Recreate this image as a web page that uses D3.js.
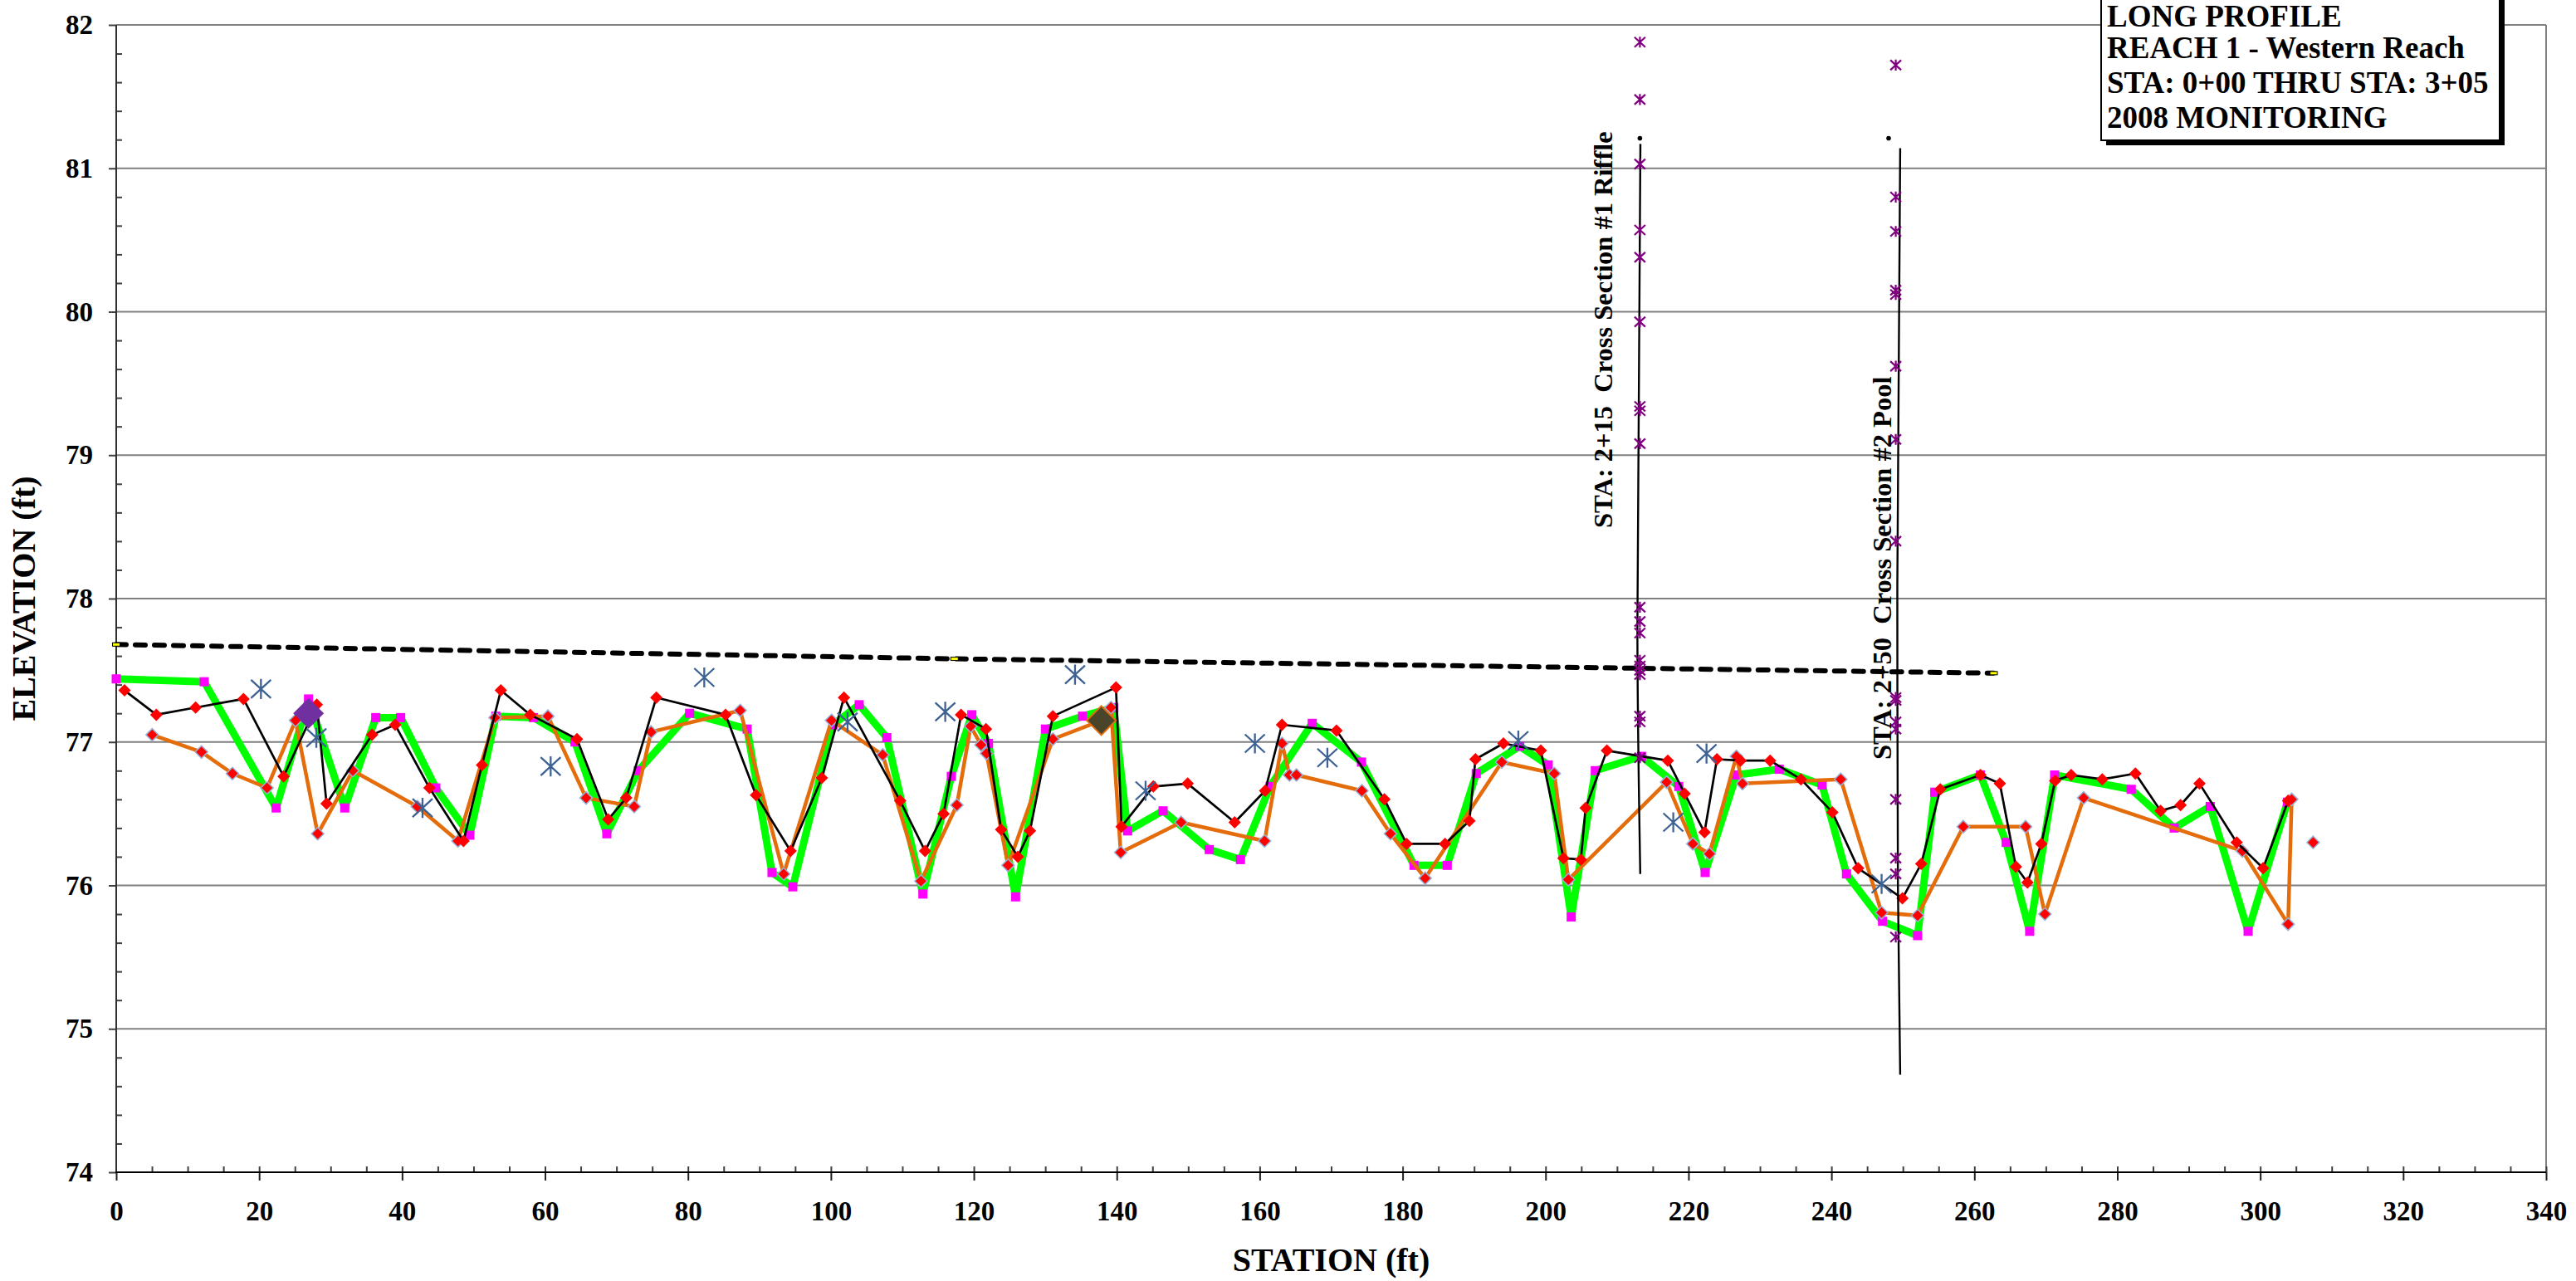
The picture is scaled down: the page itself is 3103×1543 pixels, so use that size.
<!DOCTYPE html>
<html>
<head>
<meta charset="utf-8">
<script src="https://cdn.jsdelivr.net/npm/d3@7"></script>
<style>
  html, body { margin: 0; padding: 0; background: #ffffff; }
  svg { display: block; }
  text { font-family: "Liberation Serif", "Times New Roman", serif; font-weight: bold; fill: #000; }
</style>
</head>
<body>
<svg id="chart" width="3103" height="1543"></svg>
<script>
// ---- Long profile survey data: [station (ft), elevation (ft)] ----

// Thalweg profile, survey A (green line, magenta squares)
const profileA = [
  [0.0, 77.44], [12.31, 77.42], [22.38, 76.54], [26.91, 77.30], [31.98, 76.54],
  [36.32, 77.17], [39.80, 77.17], [44.72, 76.68], [49.48, 76.35], [53.12, 77.18],
  [58.39, 77.17], [64.20, 77.00], [68.65, 76.36], [73.06, 76.80], [80.23, 77.20],
  [88.28, 77.09], [91.76, 76.09], [94.67, 75.99], [100.28, 77.12], [103.96, 77.26],
  [107.83, 77.03], [112.87, 75.94], [116.85, 76.76], [119.72, 77.19], [122.05, 76.99],
  [125.84, 75.92], [130.02, 77.09], [135.21, 77.18], [139.58, 77.24], [141.52, 76.38],
  [146.48, 76.52], [152.94, 76.25], [157.31, 76.18], [161.46, 76.69], [167.35, 77.13],
  [174.24, 76.86], [181.59, 76.14], [186.24, 76.14], [190.30, 76.78], [196.38, 76.97],
  [200.37, 76.84], [203.59, 75.78], [206.96, 76.80], [213.42, 76.90], [218.64, 76.69],
  [222.33, 76.09], [226.70, 76.77], [232.70, 76.81], [238.70, 76.70], [242.11, 76.08],
  [247.15, 75.75], [252.06, 75.65], [254.46, 76.65], [260.85, 76.77], [264.45, 76.30],
  [267.74, 75.68], [271.23, 76.77], [281.95, 76.67], [287.96, 76.40], [293.0, 76.55],
  [298.3, 75.68], [303.8, 76.58]
];

// Thalweg profile, survey B (thin black line, red diamonds)
const profileB = [
  [1.16, 77.36], [5.61, 77.19], [11.11, 77.24], [17.81, 77.30], [23.42, 76.76],
  [28.07, 77.26], [29.43, 76.57], [35.80, 77.05], [39.03, 77.12], [43.83, 76.68],
  [48.59, 76.31], [51.18, 76.84], [53.82, 77.36], [57.93, 77.19], [64.47, 77.02],
  [68.84, 76.46], [71.36, 76.61], [75.58, 77.31], [85.26, 77.19], [89.52, 76.63],
  [94.36, 76.24], [98.73, 76.75], [101.83, 77.31], [109.69, 76.59], [113.18, 76.24],
  [115.77, 76.50], [118.21, 77.19], [121.70, 77.09], [123.82, 76.39], [126.15, 76.20],
  [127.85, 76.38], [131.06, 77.18], [139.89, 77.38], [140.67, 76.41], [145.12, 76.69],
  [149.92, 76.71], [156.50, 76.44], [160.76, 76.66], [163.12, 77.12], [170.75, 77.08],
  [177.45, 76.60], [180.55, 76.29], [185.93, 76.29], [189.34, 76.45], [190.19, 76.88],
  [194.10, 76.99], [199.33, 76.94], [202.50, 76.19], [204.94, 76.18], [205.60, 76.54],
  [208.58, 76.94], [217.10, 76.87], [219.46, 76.64], [222.24, 76.37], [223.98, 76.88],
  [227.28, 76.87], [231.42, 76.87], [235.73, 76.74], [240.13, 76.51], [243.73, 76.12],
  [249.93, 75.91], [252.56, 76.15], [255.23, 76.67], [260.85, 76.77], [263.56, 76.71],
  [265.81, 76.13], [267.43, 76.02], [269.37, 76.29], [271.30, 76.73], [273.55, 76.77],
  [277.89, 76.74], [282.53, 76.78], [286.06, 76.52], [288.85, 76.56], [291.5, 76.71],
  [296.7, 76.30], [300.4, 76.12], [303.9, 76.59]
];

// Thalweg profile, survey C (orange line, outlined red diamonds)
const profileC = [
  [5.03, 77.05], [11.93, 76.93], [16.26, 76.78], [21.10, 76.68], [25.09, 77.15],
  [28.19, 76.36], [33.10, 76.80], [42.13, 76.55], [47.82, 76.31], [53.00, 77.17],
  [60.40, 77.18], [65.75, 76.61], [72.48, 76.55], [74.84, 77.07], [87.31, 77.22],
  [93.39, 76.08], [100.09, 77.15], [107.25, 76.91], [112.60, 76.03], [117.63, 76.56],
  [119.56, 77.11], [121.00, 76.98], [121.77, 76.92], [124.79, 76.14], [131.06, 77.02],
  [137.84, 77.15], [139.19, 77.24], [140.55, 76.23], [149.00, 76.44], [160.68, 76.31],
  [163.12, 76.99], [164.17, 76.77], [165.14, 76.77], [174.30, 76.66], [178.30, 76.36],
  [183.15, 76.05], [193.87, 76.86], [201.22, 76.78], [203.19, 76.04], [216.94, 76.72],
  [220.61, 76.29], [222.93, 76.22], [226.70, 76.90], [227.55, 76.71], [241.30, 76.74],
  [247.02, 75.81], [252.06, 75.79], [258.45, 76.41], [267.17, 76.41], [269.87, 75.80],
  [275.29, 76.61], [297.5, 76.24], [303.9, 75.73], [304.4, 76.60]
];

// Stand-alone spot elevation at end of reach
const endPoint = [[307.4, 76.30]];

// Water surface shots (blue asterisks)
const waterSurface = [
  [20.25, 77.37], [28.0, 77.03], [42.86, 76.54], [60.79, 76.83], [82.28, 77.45],
  [102.33, 77.14], [116.0, 77.21], [134.16, 77.47], [144.03, 76.66], [159.33, 76.99],
  [169.47, 76.89], [196.19, 77.01], [217.87, 76.44], [222.52, 76.92], [247.02, 76.01]
];

// Photo points / features (large diamonds)
const featureA = [[26.91, 77.20]];
const featureB = [[137.84, 77.15]];

// Bankfull line (dashed) with its three surveyed points
const bankfull = [[0.0, 77.68], [117.3, 77.58], [262.7, 77.48]];

// Cross-section stations drawn as vertical lines
const xs1Line = [[213.27, 81.17], [212.85, 77.8], [213.25, 76.08]];
const xs2Line = [[249.62, 81.14], [249.22, 78.0], [249.3, 76.0], [249.62, 74.68]];
const xsDots = [[213.2, 81.21], [248.0, 81.21]];

// Cross-section elevations (purple asterisks)
const xs1Station = 213.2;
const xs1Elev = [81.88, 81.48, 81.03, 80.57, 80.38, 79.93, 79.34, 79.31, 79.08,
                 77.94, 77.84, 77.76, 77.57, 77.53, 77.50, 77.47, 77.18, 77.14, 76.89];
const xs2Station = 249.0;
const xs2Elev = [81.72, 80.80, 80.56, 80.15, 80.12, 79.62, 79.11, 78.40,
                 77.31, 77.29, 77.14, 77.09, 76.60, 76.19, 76.08, 75.64];

// Axis ticks and labels
const xTicks = d3.range(0, 341, 20);
const yTicks = d3.range(74, 83, 1);
const xLabel = "STATION (ft)";
const yLabel = "ELEVATION (ft)";
const titleLines = ["LONG PROFILE", "REACH 1 - Western Reach", "STA: 0+00 THRU STA: 3+05", "2008 MONITORING"];
const titleBaselines = [32, 70, 112, 154];
const xsLabels = ["STA: 2+15  Cross Section #1 Riffle", "STA: 2+50  Cross Section #2 Pool"];

// ---- Layout ----
const svg = d3.select("#chart");
const plot = { left: 140, right: 3067, top: 30, bottom: 1412 };
const x = d3.scaleLinear().domain([0, 340]).range([plot.left, plot.right]);
const y = d3.scaleLinear().domain([74, 82]).range([plot.bottom, plot.top]);
const line = d3.line().x(d => x(d[0])).y(d => y(d[1]));

// Gridlines (major elevations) and plot border
svg.append("g").selectAll("line").data(yTicks.filter(v => v > 74)).join("line")
  .attr("x1", plot.left).attr("x2", plot.right)
  .attr("y1", d => y(d)).attr("y2", d => y(d))
  .attr("stroke", "#7f7f7f").attr("stroke-width", 2);
svg.append("line").attr("x1", plot.right).attr("x2", plot.right)
  .attr("y1", plot.top).attr("y2", plot.bottom)
  .attr("stroke", "#7f7f7f").attr("stroke-width", 2);

// Y axis
const yAxis = svg.append("g").attr("transform", `translate(${plot.left},0)`)
  .call(d3.axisLeft(y).tickValues(yTicks).tickSize(9).tickPadding(19).tickFormat(d3.format("d")));
yAxis.select(".domain").remove();
yAxis.selectAll(".tick line").attr("stroke", "#404040").attr("stroke-width", 2);
yAxis.selectAll(".tick text").attr("font-size", 33).attr("font-family", null);
svg.append("g").attr("transform", `translate(${plot.left},0)`)
  .call(d3.axisRight(y).tickValues(d3.range(74, 82.001, 0.2).filter(v => Math.abs(v - Math.round(v)) > 0.01))
    .tickSize(7).tickFormat(""))
  .call(g => g.select(".domain").remove())
  .selectAll(".tick line").attr("stroke", "#404040").attr("stroke-width", 2);
svg.append("line").attr("x1", plot.left).attr("x2", plot.left)
  .attr("y1", plot.top).attr("y2", plot.bottom + 1)
  .attr("stroke", "#303030").attr("stroke-width", 2);

// X axis
const xAxis = svg.append("g").attr("transform", `translate(0,${plot.bottom})`)
  .call(d3.axisBottom(x).tickValues(xTicks).tickSize(10).tickPadding(25).tickFormat(d3.format("d")));
xAxis.select(".domain").remove();
xAxis.selectAll(".tick line").attr("stroke", "#202020").attr("stroke-width", 2);
xAxis.selectAll(".tick text").attr("font-size", 33).attr("font-family", null);
svg.append("g").attr("transform", `translate(0,${plot.bottom})`)
  .call(d3.axisTop(x).tickValues(d3.range(0, 341, 5).filter(v => v > 0)).tickSize(7).tickFormat(""))
  .call(g => g.select(".domain").remove())
  .selectAll(".tick line").attr("stroke", "#404040").attr("stroke-width", 2);
svg.append("line").attr("x1", plot.left - 1).attr("x2", plot.right)
  .attr("y1", plot.bottom).attr("y2", plot.bottom)
  .attr("stroke", "#000").attr("stroke-width", 2);

// Axis titles
svg.append("text").attr("x", (plot.left + plot.right) / 2).attr("y", 1531)
  .attr("text-anchor", "middle").attr("font-size", 40).text(xLabel);
svg.append("text").attr("transform", `translate(42,${(plot.top + plot.bottom) / 2}) rotate(-90)`)
  .attr("text-anchor", "middle").attr("font-size", 40).text(yLabel);

// ---- Marker shapes ----
const diamond = r => `M0,${-r}L${r},0L0,${r}L${-r},0Z`;
const asterisk = (rx, ry) => `M${-rx},${-ry}L${rx},${ry}M${-rx},${ry}L${rx},${-ry}M0,${-ry * 1.1}L0,${ry * 1.1}`;

// Profile A: thick green line with magenta squares
svg.append("path").datum(profileA).attr("d", line)
  .attr("fill", "none").attr("stroke", "#00ff00").attr("stroke-width", 9).attr("stroke-linejoin", "round");
svg.append("g").selectAll("rect").data(profileA).join("rect")
  .attr("x", d => x(d[0]) - 5.5).attr("y", d => y(d[1]) - 5.5)
  .attr("width", 11).attr("height", 11).attr("fill", "#ff00ff");

// Profile C: orange line with outlined red diamonds
svg.append("path").datum(profileC).attr("d", line)
  .attr("fill", "none").attr("stroke", "#e46c0a").attr("stroke-width", 4.5).attr("stroke-linejoin", "round");
svg.append("g").selectAll("path").data(profileC.concat(endPoint)).join("path")
  .attr("d", diamond(7.5)).attr("transform", d => `translate(${x(d[0])},${y(d[1])})`)
  .attr("fill", "#ff0000").attr("stroke", "#95b3d7").attr("stroke-width", 1.5);

// Profile B: thin black line with red diamonds
svg.append("path").datum(profileB).attr("d", line)
  .attr("fill", "none").attr("stroke", "#000").attr("stroke-width", 2.7).attr("stroke-linejoin", "round");
svg.append("g").selectAll("path").data(profileB).join("path")
  .attr("d", diamond(7.5)).attr("transform", d => `translate(${x(d[0])},${y(d[1])})`)
  .attr("fill", "#ff0000");

// Water surface asterisks
svg.append("g").selectAll("path").data(waterSurface).join("path")
  .attr("d", asterisk(12, 11)).attr("transform", d => `translate(${x(d[0])},${y(d[1])})`)
  .attr("fill", "none").attr("stroke", "#3d6293").attr("stroke-width", 2.3);

// Feature diamonds
svg.append("g").selectAll("path").data(featureA).join("path")
  .attr("d", diamond(18.5)).attr("transform", d => `translate(${x(d[0])},${y(d[1])})`)
  .attr("fill", "#7030a0");
svg.append("g").selectAll("path").data(featureB).join("path")
  .attr("d", diamond(17.5)).attr("transform", d => `translate(${x(d[0])},${y(d[1])})`)
  .attr("fill", "#4a452a").attr("stroke", "#e46c0a").attr("stroke-width", 2);

// Bankfull dashed line and its point markers
svg.append("path").datum(bankfull).attr("d", line)
  .attr("fill", "none").attr("stroke", "#000").attr("stroke-width", 6)
  .attr("stroke-dasharray", "12,11").attr("stroke-linecap", "round");
svg.append("g").selectAll("rect").data(bankfull).join("rect")
  .attr("x", d => x(d[0]) - 4.5).attr("y", d => y(d[1]) - 2)
  .attr("width", 9).attr("height", 4).attr("fill", "#ffff00")
  .attr("stroke", "#000").attr("stroke-width", 1);

// Cross-section lines, dots and surveyed points
[xs1Line, xs2Line].forEach(pts => {
  svg.append("path").datum(pts).attr("d", d3.line().x(d => x(d[0])).y(d => y(d[1])).curve(d3.curveMonotoneY))
    .attr("fill", "none").attr("stroke", "#000").attr("stroke-width", 2.4);
});
svg.append("g").selectAll("circle").data(xsDots).join("circle")
  .attr("cx", d => x(d[0])).attr("cy", d => y(d[1])).attr("r", 2.8).attr("fill", "#000");
const xsPoints = xs1Elev.map(e => [xs1Station, e]).concat(xs2Elev.map(e => [xs2Station, e]));
svg.append("g").selectAll("path").data(xsPoints).join("path")
  .attr("d", asterisk(6.5, 6)).attr("transform", d => `translate(${x(d[0])},${y(d[1])})`)
  .attr("fill", "none").attr("stroke", "#800080").attr("stroke-width", 2.2);

// Cross-section labels (vertical)
const xsLabelPos = [[1942, 636], [2278, 915]];
xsLabels.forEach((t, i) => {
  svg.append("text")
    .attr("transform", `translate(${xsLabelPos[i][0]},${xsLabelPos[i][1]}) rotate(-90)`)
    .attr("font-size", 32.5).style("white-space", "pre").text(t);
});

// Title block with drop shadow
const box = { x: 2531, y: -20, w: 480, h: 189 };
svg.append("rect").attr("x", box.x + 6).attr("y", box.y + 6).attr("width", box.w).attr("height", box.h).attr("fill", "#000");
svg.append("rect").attr("x", box.x).attr("y", box.y).attr("width", box.w).attr("height", box.h)
  .attr("fill", "#fff").attr("stroke", "#000").attr("stroke-width", 2);
svg.append("g").selectAll("text").data(titleLines).join("text")
  .attr("x", 2538).attr("y", (d, i) => titleBaselines[i]).attr("font-size", 37).text(d => d);
</script>
</body>
</html>
